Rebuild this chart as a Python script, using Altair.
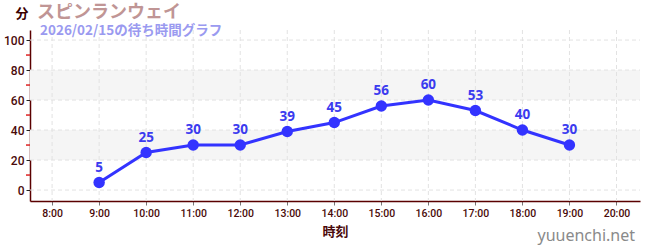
import altair as alt
import pandas as pd

hours = [9, 10, 11, 12, 13, 14, 15, 16, 17, 18, 19]
waits = [5, 25, 30, 30, 39, 45, 56, 60, 53, 40, 30]
band_lo = [20, 60]
band_hi = [40, 80]
x_ticks = list(range(8, 21))
y_ticks = [0, 20, 40, 60, 80, 100]
y_minor = [10, 30, 50, 70, 90]

W, H = 610, 171
df = pd.DataFrame({"hour": hours, "wait": waits})
bands = pd.DataFrame({"lo": band_lo, "hi": band_hi})

xscale = alt.Scale(domain=[7.53, 20.5], nice=False, zero=False)
yscale = alt.Scale(domain=[-7.3, 106.7], nice=False, zero=False)
axis_col = "#5a0000"
lab_col = "#4a0a0a"

x_axis = alt.Axis(values=x_ticks, labelExpr="datum.value + ':00'",
                  title="時刻", grid=False, domainColor=axis_col,
                  tickColor="#777777", tickSize=4, labelColor=lab_col,
                  labelFontSize=10.5, labelFont="Roboto", labelFontWeight=500,
                  titleColor=lab_col, titleFontSize=13, titleFontWeight="bold",
                  titleFont="Noto Sans CJK JP",
                  titlePadding=7, labelPadding=3, domainWidth=1.5)
y_axis = alt.Axis(values=y_ticks, title=None, grid=False, domainColor=axis_col,
                  tickColor="#222222", tickSize=4, labelColor=lab_col,
                  labelFontSize=12, labelPadding=2, domainWidth=1.5,
                  labelFont="Roboto", labelFontWeight=500,
                  labelOverlap=False, labelBound=False)

band = alt.Chart(bands).mark_rect(color="#f5f5f5").encode(
    x=alt.value(0), x2=alt.value(W),
    y=alt.Y("lo:Q", scale=yscale, axis=y_axis), y2="hi:Q")

grid_x = alt.Chart(pd.DataFrame({"h": x_ticks})).mark_rule(
    color="#e2e2e2", strokeDash=[4, 3], strokeWidth=1).encode(
    x=alt.X("h:Q", scale=xscale, axis=x_axis), y=alt.value(0), y2=alt.value(H))

grid_y = alt.Chart(pd.DataFrame({"v": y_ticks})).mark_rule(
    color="#e2e2e2", strokeDash=[4, 3], strokeWidth=1).encode(
    y=alt.Y("v:Q", scale=yscale, axis=y_axis), x=alt.value(0), x2=alt.value(W))

minor = alt.Chart(pd.DataFrame({"v": y_minor})).mark_rule(
    color="#dd2222", strokeWidth=1.5).encode(
    y=alt.Y("v:Q", scale=yscale, axis=y_axis), x=alt.value(-4), x2=alt.value(0))

line = alt.Chart(df).mark_line(color="#3333ff", strokeWidth=3).encode(
    x=alt.X("hour:Q", scale=xscale, axis=x_axis),
    y=alt.Y("wait:Q", scale=yscale, axis=y_axis))
pts = alt.Chart(df).mark_circle(color="#3333ff", size=130, opacity=1).encode(
    x=alt.X("hour:Q", scale=xscale, axis=x_axis),
    y=alt.Y("wait:Q", scale=yscale, axis=y_axis))
labels = alt.Chart(df).mark_text(color="#3b3bef", fontSize=13.5, fontWeight="bold",
                                 dy=-15, font="Noto Sans").encode(
    x=alt.X("hour:Q", scale=xscale, axis=x_axis),
    y=alt.Y("wait:Q", scale=yscale, axis=y_axis), text="wait:Q")

one = pd.DataFrame({"a": [0]})
def txt(s, x, y, **kw):
    return alt.Chart(one).mark_text(**kw).encode(
        x=alt.value(x), y=alt.value(y), text=alt.value(s))

t_unit = txt("分", -8, -16, fontSize=13, fontWeight="bold", color="#3a0000",
             align="center", font="Noto Sans CJK JP")
t_title = txt("スピンランウェイ", 7, -17, fontSize=18, fontWeight="bold", color="#c09595",
              align="left", font="Noto Sans CJK JP")
t_sub = txt("2026/02/15の待ち時間グラフ", 10, 1, fontSize=13.5, fontWeight="bold",
            color="#9a9af0", align="left", font="Noto Sans CJK JP")
t_wm = txt("yuuenchi.net", 605, 206, fontSize=16, color="#8a8a8a",
           align="right", font="Noto Sans")

chart = alt.layer(band, grid_x, grid_y, minor, line, pts, labels,
                  t_unit, t_title, t_sub, t_wm).properties(
    width=W, height=H, autosize="none",
    padding={"left": 30, "top": 30, "right": 10, "bottom": 49},
    background="white"
).configure_view(stroke=None)

chart.save("out.html", embed_options={"renderer": "svg", "actions": False})
